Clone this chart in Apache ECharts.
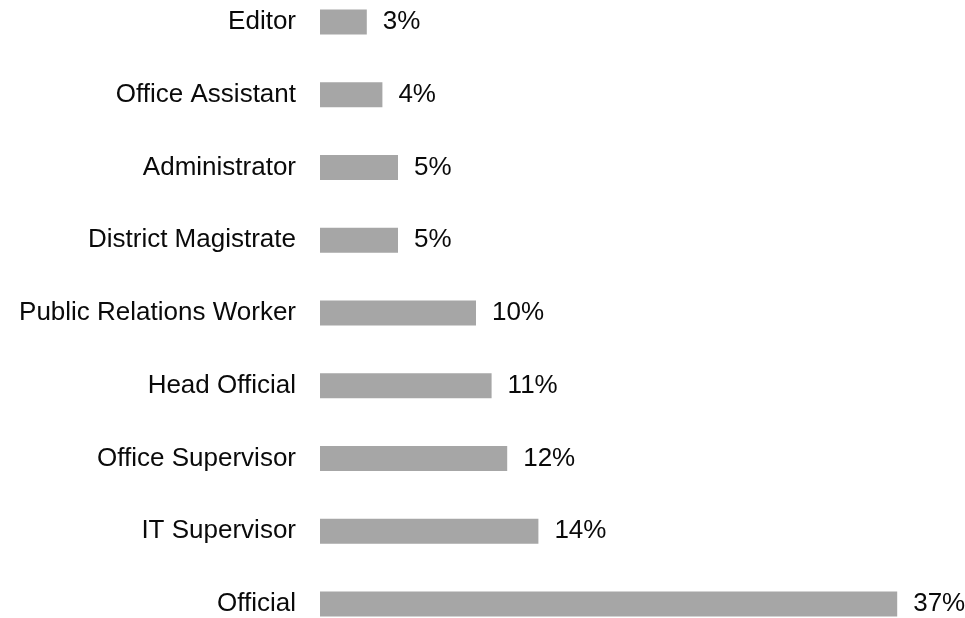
<!DOCTYPE html>
<html>
<head>
<meta charset="utf-8">
<script src="https://cdn.jsdelivr.net/npm/echarts@6/dist/echarts.min.js"></script>
<style>
  html, body { margin: 0; padding: 0; background: #ffffff; }
  #chart { width: 965px; height: 618px; }
</style>
</head>
<body>
<div id="chart"></div>
<script>
// Job titles, top to bottom
const categories = [
  'Editor',
  'Office Assistant',
  'Administrator',
  'District Magistrate',
  'Public Relations Worker',
  'Head Official',
  'Office Supervisor',
  'IT Supervisor',
  'Official'
];
// Share of respondents, in percent
const shares = [3, 4, 5, 5, 10, 11, 12, 14, 37];

const chart = echarts.init(document.getElementById('chart'), null, { renderer: 'canvas' });

const textFont = 'Liberation Sans, Arial, Helvetica, sans-serif';

chart.setOption({
  animation: false,
  backgroundColor: '#ffffff',
  grid: { left: 320, right: 21, top: 22, bottom: 14, containLabel: false },
  xAxis: {
    type: 'value',
    min: 0,
    max: 40,
    show: false
  },
  yAxis: {
    type: 'category',
    data: categories,
    inverse: true,
    boundaryGap: false,
    axisLine: { show: false },
    axisTick: { show: false },
    splitLine: { show: false },
    axisLabel: {
      margin: 24,
      color: '#0a0a0a',
      fontFamily: textFont,
      fontSize: 26,
      verticalAlign: 'middle',
      padding: [4, 0, 0, 0]
    }
  },
  series: [{
    type: 'bar',
    data: shares,
    barWidth: 25,
    itemStyle: { color: '#a6a6a6' },
    label: {
      show: true,
      position: 'right',
      distance: 16,
      formatter: p => p.value + '%',
      color: '#0a0a0a',
      fontFamily: textFont,
      fontSize: 26,
      verticalAlign: 'middle',
      padding: [4, 0, 0, 0]
    }
  }]
});
</script>
</body>
</html>
